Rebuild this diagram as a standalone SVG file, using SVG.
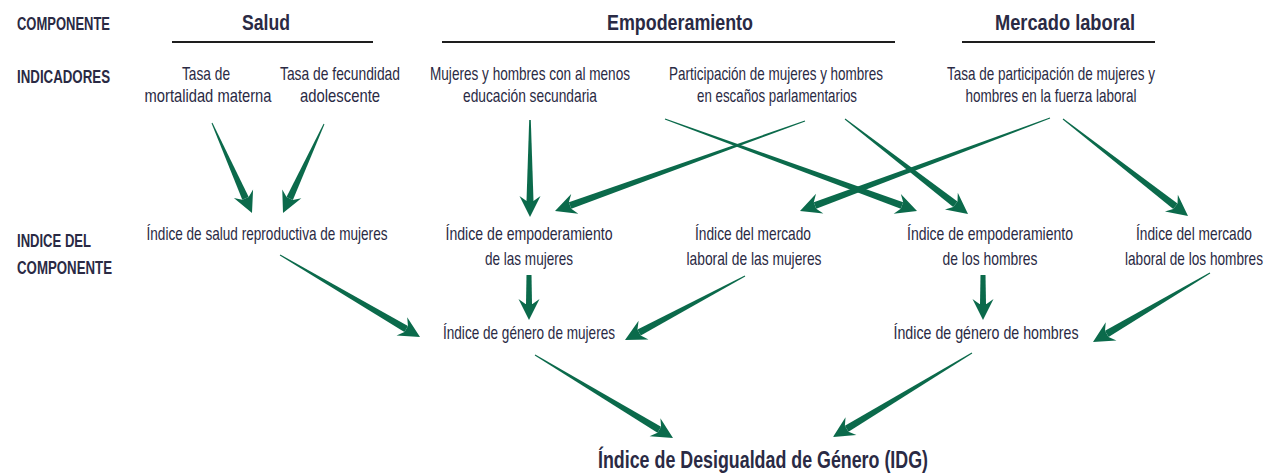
<svg xmlns="http://www.w3.org/2000/svg" xmlns:xlink="http://www.w3.org/1999/xlink" width="1280" height="475" viewBox="0 0 1280 475">
<style>
text{font-family:"Liberation Sans Narrow","Liberation Sans",Arial,sans-serif;fill:#2a2a44;}
.lbl{font-size:19px;text-anchor:middle;}
.row{font-size:18px;font-weight:bold;}
.hdr{font-size:22px;font-weight:bold;text-anchor:middle;}
.title{font-size:23px;font-weight:bold;text-anchor:middle;}
.rule{stroke:#1e1e1e;stroke-width:2;}
.arr{fill:#0b6a4b;}
</style>
<defs>
<path id="ah" d="M0,0 L-21,-10.5 L-16,-3.5 L-16,3.5 L-21,10.5 Z"/>
</defs>
<rect width="1280" height="475" fill="#ffffff"/>

<g id="row-labels">
<text class="row" x="17" y="30" textLength="93" lengthAdjust="spacingAndGlyphs">COMPONENTE</text>
<text class="row" x="17" y="83" textLength="93" lengthAdjust="spacingAndGlyphs">INDICADORES</text>
<text class="row" x="17" y="247" textLength="74" lengthAdjust="spacingAndGlyphs">INDICE DEL</text>
<text class="row" x="17" y="274" textLength="95" lengthAdjust="spacingAndGlyphs">COMPONENTE</text>
</g>

<g id="comp-salud">
<text class="hdr" x="266" y="30" textLength="48" lengthAdjust="spacingAndGlyphs">Salud</text>
<line class="rule" x1="172" y1="42" x2="373" y2="42"/>
</g>
<g id="comp-empoderamiento">
<text class="hdr" x="680" y="30" textLength="146" lengthAdjust="spacingAndGlyphs">Empoderamiento</text>
<line class="rule" x1="442" y1="42" x2="895" y2="42"/>
</g>
<g id="comp-mercado">
<text class="hdr" x="1065" y="30" textLength="140" lengthAdjust="spacingAndGlyphs">Mercado laboral</text>
<line class="rule" x1="962" y1="42" x2="1155" y2="42"/>
</g>

<g id="ind-mortalidad">
<text class="lbl" x="206" y="80" textLength="48" lengthAdjust="spacingAndGlyphs">Tasa de</text>
<text class="lbl" x="208" y="102" textLength="127" lengthAdjust="spacingAndGlyphs">mortalidad materna</text>
</g>
<g id="ind-fecundidad">
<text class="lbl" x="340" y="80" textLength="120" lengthAdjust="spacingAndGlyphs">Tasa de fecundidad</text>
<text class="lbl" x="340" y="102" textLength="80" lengthAdjust="spacingAndGlyphs">adolescente</text>
</g>
<g id="ind-educacion">
<text class="lbl" x="530" y="80" textLength="200" lengthAdjust="spacingAndGlyphs">Mujeres y hombres con al menos</text>
<text class="lbl" x="530" y="102" textLength="134" lengthAdjust="spacingAndGlyphs">educación secundaria</text>
</g>
<g id="ind-escanos">
<text class="lbl" x="776" y="80" textLength="214" lengthAdjust="spacingAndGlyphs">Participación de mujeres y hombres</text>
<text class="lbl" x="777" y="102" textLength="160" lengthAdjust="spacingAndGlyphs">en escaños parlamentarios</text>
</g>
<g id="ind-fuerza">
<text class="lbl" x="1051" y="80" textLength="208" lengthAdjust="spacingAndGlyphs">Tasa de participación de mujeres y</text>
<text class="lbl" x="1051" y="102" textLength="171" lengthAdjust="spacingAndGlyphs">hombres en la fuerza laboral</text>
</g>

<g id="idx-salud">
<text class="lbl" x="267" y="240" textLength="241" lengthAdjust="spacingAndGlyphs">Índice de salud reproductiva de mujeres</text>
</g>
<g id="idx-emp-mujeres">
<text class="lbl" x="529" y="240" textLength="167" lengthAdjust="spacingAndGlyphs">Índice de empoderamiento</text>
<text class="lbl" x="529" y="265" textLength="88" lengthAdjust="spacingAndGlyphs">de las mujeres</text>
</g>
<g id="idx-merc-mujeres">
<text class="lbl" x="753" y="240" textLength="116" lengthAdjust="spacingAndGlyphs">Índice del mercado</text>
<text class="lbl" x="754" y="265" textLength="135" lengthAdjust="spacingAndGlyphs">laboral de las mujeres</text>
</g>
<g id="idx-emp-hombres">
<text class="lbl" x="990" y="240" textLength="166" lengthAdjust="spacingAndGlyphs">Índice de empoderamiento</text>
<text class="lbl" x="990" y="265" textLength="95" lengthAdjust="spacingAndGlyphs">de los hombres</text>
</g>
<g id="idx-merc-hombres">
<text class="lbl" x="1194" y="240" textLength="116" lengthAdjust="spacingAndGlyphs">Índice del mercado</text>
<text class="lbl" x="1194" y="265" textLength="138" lengthAdjust="spacingAndGlyphs">laboral de los hombres</text>
</g>

<g id="gen-mujeres">
<text class="lbl" x="529" y="339" textLength="172" lengthAdjust="spacingAndGlyphs">Índice de género de mujeres</text>
</g>
<g id="gen-hombres">
<text class="lbl" x="986" y="339" textLength="185" lengthAdjust="spacingAndGlyphs">Índice de género de hombres</text>
</g>

<g id="idg">
<text class="title" x="763" y="468" textLength="330" lengthAdjust="spacingAndGlyphs">Índice de Desigualdad de Género (IDG)</text>
</g>

<g id="connectors" class="arr">
<g transform="translate(252,213) rotate(66.04)"><polygon points="-16,-3.5 -98.5,-0.5 -98.5,0.5 -16,3.5"/><use xlink:href="#ah"/></g>
<g transform="translate(283,213) rotate(114.74)"><polygon points="-16,-3.5 -98,-0.5 -98,0.5 -16,3.5"/><use xlink:href="#ah"/></g>
<g transform="translate(530,217) rotate(90)"><polygon points="-16,-3.5 -97,-0.8 -97,0.8 -16,3.5"/><use xlink:href="#ah"/></g>
<g transform="translate(555,211) rotate(160.2)"><polygon points="-16,-3.5 -265.7,-0.5 -265.7,0.5 -16,3.5"/><use xlink:href="#ah"/></g>
<g transform="translate(917,211) rotate(20.06)"><polygon points="-16,-3.5 -268.3,-0.5 -268.3,0.5 -16,3.5"/><use xlink:href="#ah"/></g>
<g transform="translate(968,214) rotate(37.68)"><polygon points="-16,-3.5 -155.4,-0.5 -155.4,0.5 -16,3.5"/><use xlink:href="#ah"/></g>
<g transform="translate(800,211) rotate(159.6)"><polygon points="-16,-3.5 -266.7,-0.5 -266.7,0.5 -16,3.5"/><use xlink:href="#ah"/></g>
<g transform="translate(1188,216) rotate(37.81)"><polygon points="-16,-3.5 -158.2,-0.5 -158.2,0.5 -16,3.5"/><use xlink:href="#ah"/></g>
<g transform="translate(420,337) rotate(30.36)"><polygon points="-16,-3.5 -162.2,-0.5 -162.2,0.5 -16,3.5"/><use xlink:href="#ah"/></g>
<g transform="translate(529,320) rotate(90)"><polygon points="-16,-3 -45,-2.5 -45,2.5 -16,3"/><use xlink:href="#ah"/></g>
<g transform="translate(625,340) rotate(151.93)"><polygon points="-16,-3.5 -136,-0.5 -136,0.5 -16,3.5"/><use xlink:href="#ah"/></g>
<g transform="translate(983,320) rotate(90)"><polygon points="-16,-3 -45,-2.5 -45,2.5 -16,3"/><use xlink:href="#ah"/></g>
<g transform="translate(1093,342) rotate(149.47)"><polygon points="-16,-3.5 -135.8,-0.5 -135.8,0.5 -16,3.5"/><use xlink:href="#ah"/></g>
<g transform="translate(673,438) rotate(31.02)"><polygon points="-16,-3.5 -161,-0.5 -161,0.5 -16,3.5"/><use xlink:href="#ah"/></g>
<g transform="translate(833,437) rotate(148.85)"><polygon points="-16,-3.5 -162.4,-0.5 -162.4,0.5 -16,3.5"/><use xlink:href="#ah"/></g>
</g>
</svg>
